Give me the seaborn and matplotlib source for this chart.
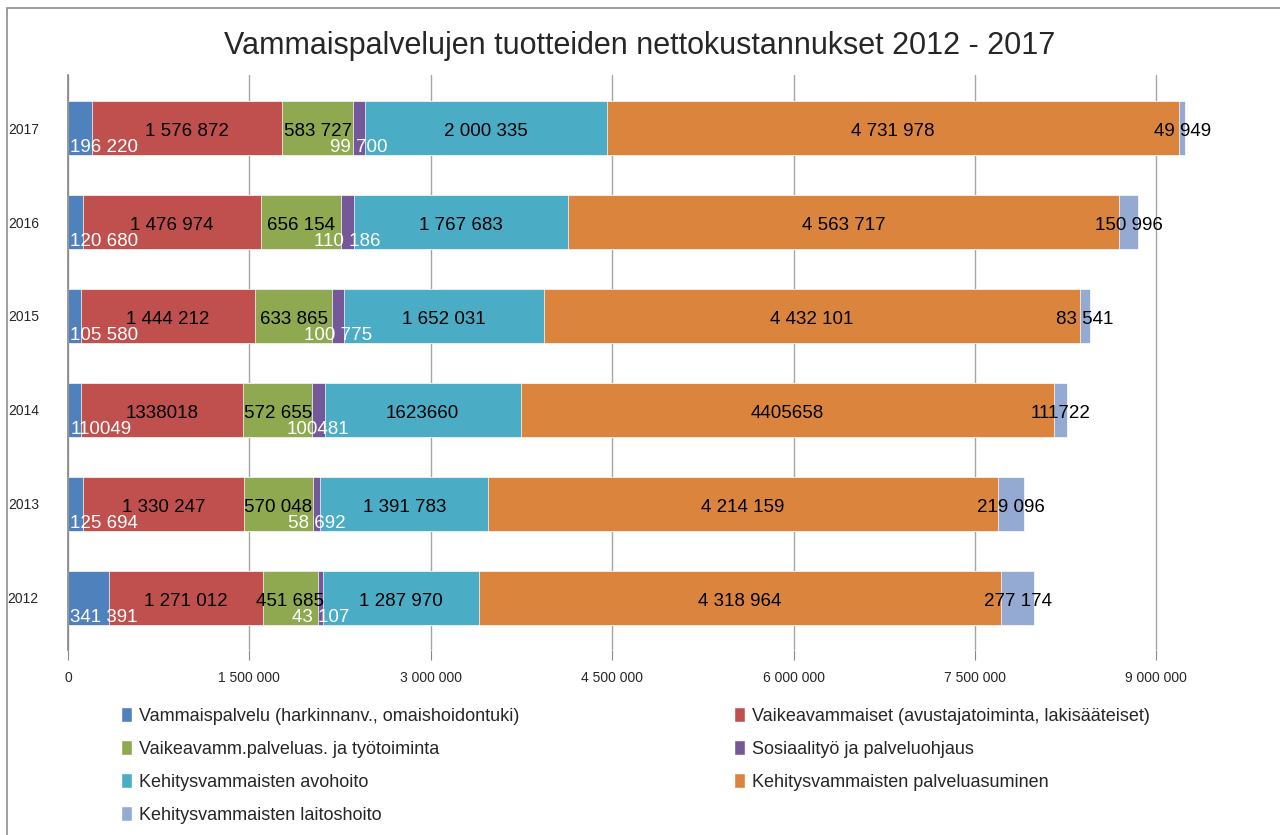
"""
Vammaispalvelujen tuotteiden nettokustannukset 2012 - 2017, pinottu vaakapylväskaavio.
"""
import numpy as np
import pandas as pd
import matplotlib
matplotlib.use('Agg')
import matplotlib.pyplot as plt
from matplotlib.patches import Patch, Rectangle
import seaborn as sns

years = ['2017', '2016', '2015', '2014', '2013', '2012']
categories = [
    'Vammaispalvelu (harkinnanv., omaishoidontuki)',
    'Vaikeavammaiset (avustajatoiminta, lakisääteiset)',
    'Vaikeavamm.palveluas. ja työtoiminta',
    'Sosiaalityö ja palveluohjaus',
    'Kehitysvammaisten avohoito',
    'Kehitysvammaisten palveluasuminen',
    'Kehitysvammaisten laitoshoito',
]
vammaispalvelu = [196220, 120680, 105580, 110049, 125694, 341391]
vaikeavammaiset = [1576872, 1476974, 1444212, 1338018, 1330247, 1271012]
palveluas_tyotoiminta = [583727, 656154, 633865, 572655, 570048, 451685]
sosiaalityo = [99700, 110186, 100775, 100481, 58692, 43107]
kv_avohoito = [2000335, 1767683, 1652031, 1623660, 1391783, 1287970]
kv_palveluasuminen = [4731978, 4563717, 4432101, 4405658, 4214159, 4318964]
kv_laitoshoito = [49949, 150996, 83541, 111722, 219096, 277174]

# 2014 tarrat on alkuperäisessä ilman tuhaterottimia (paitsi vihreä)
plain_labels = {('2014', 0), ('2014', 1), ('2014', 3), ('2014', 4), ('2014', 5), ('2014', 6)}

colors = ['#4F81BD', '#C0504D', '#8EA94F', '#75589A', '#4BACC6', '#DB843D', '#94AAD3']
x_ticks = [0, 1500000, 3000000, 4500000, 6000000, 7500000, 9000000]

df = pd.DataFrame(
    [vammaispalvelu, vaikeavammaiset, palveluas_tyotoiminta, sosiaalityo,
     kv_avohoito, kv_palveluasuminen, kv_laitoshoito],
    index=categories, columns=years).T
cum = df.cumsum(axis=1)
left = cum - df

sns.set_style('white')
plt.rcParams['font.family'] = ['Liberation Sans', 'DejaVu Sans']

fig = plt.figure(figsize=(12.8, 8.35), dpi=100)
ax = fig.add_axes([68 / 1280, 1 - 650 / 835, (1195 - 68) / 1280, (650 - 75) / 835])

# pinotaan piirtämällä kumulatiiviset summat suurimmasta pienimpään
for i in range(len(categories) - 1, -1, -1):
    sns.barplot(x=cum[categories[i]].values, y=years, order=years, orient='h',
                color=colors[i], saturation=1, width=0.57, ax=ax,
                edgecolor='white', linewidth=0.5)

def fmt(v, plain):
    return str(v) if plain else f'{v:,}'.replace(',', ' ')

for r, yr in enumerate(years):
    for i, cat in enumerate(categories):
        v = df.loc[yr, cat]
        s = fmt(v, (yr, i) in plain_labels)
        l = left.loc[yr, cat]
        c = l + v / 2
        if i == 0:
            ax.text(l + 20000, r + 0.21, s, ha='left', va='center', color='white', fontsize=13.5)
        elif i == 3:
            ax.text(c, r + 0.21, s, ha='center', va='center', color='white', fontsize=13.5)
        else:
            ax.text(c, r + 0.04, s, ha='center', va='center', color='black', fontsize=13.5)

ax.set_xlim(0, 9320000)
ax.set_ylim(5.555, -0.565)
ax.set_xticks(x_ticks)
ax.set_xticklabels([fmt(t, False) for t in x_ticks], fontsize=10)
ax.tick_params(axis='x', length=7, color='#888888', direction='out', pad=8, bottom=True)
ax.tick_params(axis='y', length=0, pad=21, labelsize=10)
ax.set_xlabel('')
ax.set_ylabel('')
ax.grid(axis='x', color='#a6a6a6', linewidth=1)
ax.set_axisbelow(True)
for side in ['top', 'right', 'bottom']:
    ax.spines[side].set_visible(False)
ax.spines['left'].set_color('#868686')
ax.spines['left'].set_linewidth(1.2)

fig.suptitle('Vammaispalvelujen tuotteiden nettokustannukset 2012 - 2017',
             y=1 - 46 / 835, va='center', fontsize=22)

handles = [Patch(facecolor=c) for c in colors]
leg_kw = dict(frameon=False, fontsize=13, handlelength=0.6, handleheight=0.9,
              handletextpad=0.4, labelspacing=0.84, loc='upper left', borderaxespad=0)
fig.legend([handles[i] for i in [0, 2, 4, 6]], [categories[i] for i in [0, 2, 4, 6]],
           bbox_to_anchor=(114 / 1280, 1 - 700 / 835), **leg_kw)
fig.legend([handles[i] for i in [1, 3, 5]], [categories[i] for i in [1, 3, 5]],
           bbox_to_anchor=(727 / 1280, 1 - 700 / 835), **leg_kw)

fig.patches.append(Rectangle((7 / 1280, -0.1), 2, 0.1 + 1 - 8 / 835, fill=False,
                             edgecolor='#8c8c8c', linewidth=1.2,
                             transform=fig.transFigure, figure=fig))

fig.savefig('out.png', dpi=100)
